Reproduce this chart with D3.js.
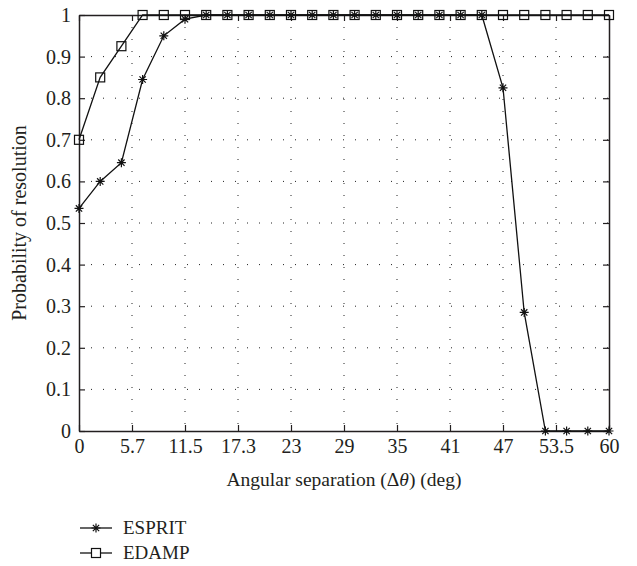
<html>
<head>
<script src="https://cdnjs.cloudflare.com/ajax/libs/d3/7.8.5/d3.min.js"></script>
<meta charset="utf-8">
<title>Probability of resolution</title>
<style>
  body { margin: 0; background: #fff; }
</style>
</head>
<body>
<script type="text/javascript">

  var w = 637;
  var h = 566;
  var margin = { left: 79, right: 28, top: 15, bottom: 135 };
  var plotW = w - margin.left - margin.right;
  var plotH = h - margin.top - margin.bottom;
  var serif = "Liberation Serif, DejaVu Serif, serif";

  // angular separation samples (deg)
  var angles = [0, 2.4, 4.8, 7.2, 9.6, 12, 14.4, 16.8, 19.2, 21.6, 24, 26.4, 28.8,
                31.2, 33.6, 36, 38.4, 40.8, 43.2, 45.6, 48, 50.4, 52.8, 55.2, 57.6, 60];
  var esprit = [0.535, 0.6, 0.645, 0.845, 0.95, 0.99, 1, 1, 1, 1, 1, 1, 1,
                1, 1, 1, 1, 1, 1, 1, 0.825, 0.285, 0, 0, 0, 0];
  var edamp = [0.7, 0.85, 0.925, 1, 1, 1, 1, 1, 1, 1, 1, 1, 1,
               1, 1, 1, 1, 1, 1, 1, 1, 1, 1, 1, 1, 1];

  var xTickPos = [0, 6, 12, 18, 24, 30, 36, 42, 48, 54, 60];
  var xTickLabels = ["0", "5.7", "11.5", "17.3", "23", "29", "35", "41", "47", "53.5", "60"];
  var yTicks = [0, 0.1, 0.2, 0.3, 0.4, 0.5, 0.6, 0.7, 0.8, 0.9, 1];

  var x = d3.scaleLinear().domain([0, 60]).range([0, plotW]);
  var y = d3.scaleLinear().domain([0, 1]).range([plotH, 0]);

  var svg = d3.select("body")
              .append("svg")
              .attr("width", w)
              .attr("height", h)
              .style("font-family", serif);

  var g = svg.append("g")
             .attr("transform", "translate(" + margin.left + "," + margin.top + ")");

  // dotted grid
  g.selectAll("line.gx")
    .data(xTickPos.slice(1, -1))
    .enter()
    .append("line")
    .attr("class", "gx")
    .attr("x1", function(d) { return x(d); })
    .attr("x2", function(d) { return x(d); })
    .attr("y1", 0)
    .attr("y2", plotH)
    .attr("stroke", "#222")
    .attr("stroke-width", 1)
    .attr("stroke-dasharray", "1,11");

  g.selectAll("line.gy")
    .data(yTicks.slice(1, -1))
    .enter()
    .append("line")
    .attr("class", "gy")
    .attr("x1", 0)
    .attr("x2", plotW)
    .attr("y1", function(d) { return y(d); })
    .attr("y2", function(d) { return y(d); })
    .attr("stroke", "#222")
    .attr("stroke-width", 1)
    .attr("stroke-dasharray", "1,11");

  // axes with inward ticks
  var xAxis = d3.axisBottom(x)
                .tickValues(xTickPos)
                .tickSizeInner(-6)
                .tickSizeOuter(0)
                .tickPadding(8)
                .tickFormat(function(d, i) { return xTickLabels[i]; });
  var gx = g.append("g").attr("transform", "translate(0," + plotH + ")").call(xAxis);

  var yAxis = d3.axisLeft(y)
                .tickValues(yTicks)
                .tickSizeInner(-6)
                .tickSizeOuter(0)
                .tickPadding(8)
                .tickFormat(function(d) { return d === 0 || d === 1 ? d : d3.format(".1f")(d); });
  var gy = g.append("g").call(yAxis);

  var gTop = g.append("g").call(d3.axisTop(x).tickValues(xTickPos).tickSizeInner(-6).tickSizeOuter(0).tickFormat(""));
  var gRight = g.append("g").attr("transform", "translate(" + plotW + ",0)")
                .call(d3.axisRight(y).tickValues(yTicks).tickSizeInner(-6).tickSizeOuter(0).tickFormat(""));

  [gx, gy, gTop, gRight].forEach(function(a) {
    a.attr("font-family", serif).attr("font-size", 20);
    a.select(".domain").attr("stroke", "#231f20").attr("stroke-width", 1.5);
    a.selectAll(".tick line").attr("stroke", "#231f20").attr("stroke-width", 1.2);
    a.selectAll(".tick text").style("font-family", serif).style("font-size", "20px")
      .attr("fill", "#231f20");
  });

  // lines
  var line = d3.line()
               .x(function(d) { return x(d[0]); })
               .y(function(d) { return y(d[1]); });

  var espritPts = angles.map(function(a, i) { return [a, esprit[i]]; });
  var edampPts = angles.map(function(a, i) { return [a, edamp[i]]; });

  g.append("path").attr("d", line(espritPts))
    .attr("fill", "none").attr("stroke", "#111").attr("stroke-width", 1.3);
  g.append("path").attr("d", line(edampPts))
    .attr("fill", "none").attr("stroke", "#111").attr("stroke-width", 1.3);

  var starPath = function(s) {
    return "M" + (-s) + ",0L" + s + ",0" +
           "M0," + (-s) + "L0," + s +
           "M" + (-s * 0.7) + "," + (-s * 0.7) + "L" + (s * 0.7) + "," + (s * 0.7) +
           "M" + (-s * 0.7) + "," + (s * 0.7) + "L" + (s * 0.7) + "," + (-s * 0.7);
  };

  g.selectAll("path.star")
    .data(espritPts)
    .enter()
    .append("path")
    .attr("class", "star")
    .attr("transform", function(d) { return "translate(" + x(d[0]) + "," + y(d[1]) + ")"; })
    .attr("d", starPath(4.5))
    .attr("stroke", "#111")
    .attr("stroke-width", 1.2)
    .attr("fill", "none");

  g.selectAll("rect.sq")
    .data(edampPts)
    .enter()
    .append("rect")
    .attr("class", "sq")
    .attr("x", function(d) { return x(d[0]) - 4.5; })
    .attr("y", function(d) { return y(d[1]) - 4.5; })
    .attr("width", 9)
    .attr("height", 9)
    .attr("stroke", "#111")
    .attr("stroke-width", 1.2)
    .attr("fill", "none");

  // axis titles
  var xt = svg.append("text")
    .attr("x", margin.left + plotW / 2)
    .attr("y", 486)
    .attr("text-anchor", "middle")
    .style("font-family", serif)
    .style("font-size", "19.5px")
    .attr("fill", "#231f20");
  xt.append("tspan").text("Angular separation (\u0394");
  xt.append("tspan").style("font-style", "italic").text("\u03B8");
  xt.append("tspan").text(") (deg)");

  svg.append("text")
    .attr("transform", "translate(26," + (margin.top + plotH / 2) + ") rotate(-90)")
    .attr("text-anchor", "middle")
    .style("font-family", serif)
    .style("font-size", "20px")
    .attr("fill", "#231f20")
    .text("Probability of resolution");

  // legend
  var legend = svg.append("g").attr("transform", "translate(80,528)");
  var legItems = ["ESPRIT", "EDAMP"];
  legItems.forEach(function(name, i) {
    var row = legend.append("g").attr("transform", "translate(0," + (i * 25) + ")");
    row.append("line").attr("x1", 0).attr("x2", 32).attr("y1", 0).attr("y2", 0)
      .attr("stroke", "#111").attr("stroke-width", 1.3);
    if (i === 0) {
      row.append("path").attr("transform", "translate(16,0)").attr("d", starPath(4.5))
        .attr("stroke", "#111").attr("stroke-width", 1.2).attr("fill", "none");
    } else {
      row.append("rect").attr("x", 11.5).attr("y", -4.5).attr("width", 9).attr("height", 9)
        .attr("stroke", "#111").attr("stroke-width", 1.2).attr("fill", "#fff");
    }
    row.append("text").attr("x", 43).attr("y", 6)
      .style("font-family", serif).style("font-size", "19px")
      .attr("fill", "#231f20").text(name);
  });

</script>
</body>
</html>
